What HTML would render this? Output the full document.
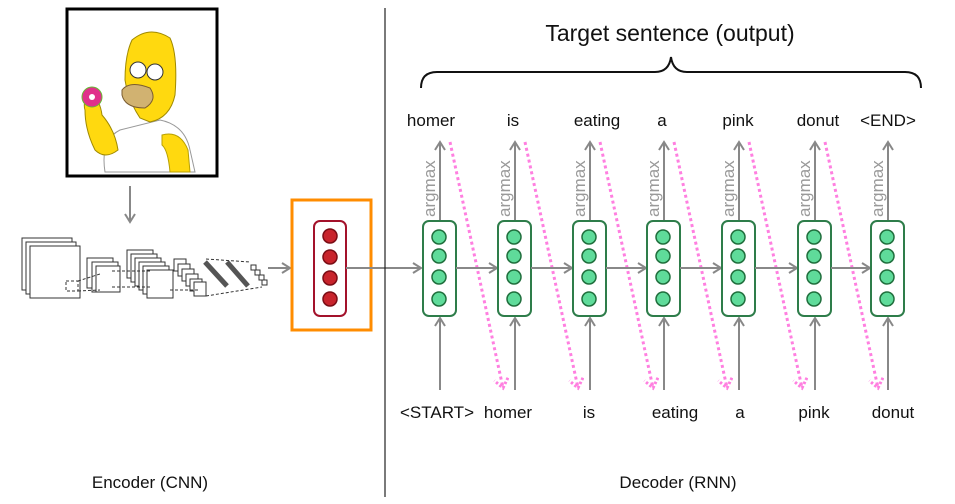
<!DOCTYPE html>
<html><head><meta charset="utf-8"><style>
html,body{margin:0;padding:0;background:#fff;}
svg{display:block;font-family:"Liberation Sans",sans-serif;}
</style></head><body>
<svg width="955" height="504" viewBox="0 0 955 504" xmlns="http://www.w3.org/2000/svg">
<defs>
<marker id="ga" markerWidth="12" markerHeight="12" refX="9" refY="6" orient="auto" markerUnits="userSpaceOnUse">
<path d="M1,1 L9,6 L1,11" fill="none" stroke="#888" stroke-width="2"/></marker>
<marker id="pa" markerWidth="16" markerHeight="16" refX="11" refY="8" orient="auto" markerUnits="userSpaceOnUse">
<path d="M2,1 L11,8 L2,15" fill="none" stroke="#ff7fe0" stroke-width="3" stroke-dasharray="2.5,2"/></marker>
</defs>
<!-- Homer picture -->
<rect x="67" y="9" width="150" height="167" fill="#fff" stroke="#000" stroke-width="3"/>
<path d="M105,172 Q100,140 120,130 L160,120 Q185,125 190,150 L195,172 Z" fill="#fff" stroke="#999"/>
<path d="M162,135 Q180,130 188,150 L190,172 L170,172 Q168,150 162,145 Z" fill="#ffd90f" stroke="#b8a000"/>
<path d="M132,40 Q150,25 170,38 Q178,55 175,95 Q170,118 150,122 L140,118 Q128,100 125,80 Q125,55 132,40 Z" fill="#ffd90f" stroke="#a08a00"/>
<path d="M122,90 Q130,80 150,88 Q158,100 145,108 Q125,108 122,95 Z" fill="#d1b271" stroke="#7a5c30"/>
<circle cx="138" cy="70" r="8" fill="#fff" stroke="#333"/><circle cx="155" cy="72" r="8" fill="#fff" stroke="#333"/>
<path d="M85,110 Q82,100 92,95 Q100,100 102,115 Q115,130 118,150 Q105,160 95,150 Q85,130 85,110 Z" fill="#ffd90f" stroke="#a08a00"/>
<circle cx="92" cy="97" r="10" fill="#e0308a" stroke="#6b3"/><circle cx="92" cy="97" r="3" fill="#fff"/>
<!-- arrow down -->
<line x1="130" y1="186" x2="130" y2="222" stroke="#888" stroke-width="2" marker-end="url(#ga)"/>
<!-- CNN sketch -->
<g fill="#fff" stroke="#333" stroke-width="1">
<rect x="22" y="238" width="50" height="52"/><rect x="26" y="242" width="50" height="52"/><rect x="30" y="246" width="50" height="52"/>
<rect x="87" y="258" width="26" height="30"/><rect x="92" y="262" width="26" height="30"/><rect x="96" y="266" width="24" height="26"/>
<rect x="127" y="250" width="26" height="28"/><rect x="131" y="254" width="26" height="28"/><rect x="135" y="258" width="26" height="28"/><rect x="139" y="262" width="26" height="28"/><rect x="143" y="266" width="26" height="28"/><rect x="147" y="270" width="26" height="28"/>
<rect x="174" y="259" width="12" height="12"/><rect x="178" y="264" width="12" height="12"/><rect x="182" y="269" width="12" height="12"/><rect x="186" y="274" width="12" height="12"/><rect x="190" y="279" width="12" height="12"/><rect x="194" y="282" width="12" height="14"/>
</g>
<g stroke="#555" stroke-width="5" fill="none"><line x1="205" y1="262" x2="227" y2="286"/><line x1="227" y1="262" x2="248" y2="286"/></g>
<g fill="#fff" stroke="#333"><rect x="251" y="265" width="5" height="5"/><rect x="255" y="270" width="5" height="5"/><rect x="259" y="275" width="5" height="5"/><rect x="262" y="280" width="5" height="5"/></g>
<g stroke="#333" stroke-dasharray="3,2" fill="none"><rect x="66" y="281" width="12" height="10"/><path d="M78,281 L100,274 M78,291 L100,290 M112,271 L150,271 M112,287 L150,287 M170,290 L200,290 M206,259 L250,262 M206,296 L262,287"/></g>
<line x1="268" y1="268" x2="290" y2="268" stroke="#888" stroke-width="2" marker-end="url(#ga)"/>
<!-- orange box & red cell -->
<rect x="292" y="200" width="79" height="130" fill="none" stroke="#ff8c00" stroke-width="3"/>
<rect x="314" y="221" width="32" height="95" rx="6" fill="#fff" stroke="#a3122b" stroke-width="2"/>
<g fill="#c8242c" stroke="#7a0d15" stroke-width="1.5"><circle cx="330" cy="236" r="7"/><circle cx="330" cy="257" r="7"/><circle cx="330" cy="278" r="7"/><circle cx="330" cy="299" r="7"/></g>
<line x1="346" y1="268" x2="421" y2="268" stroke="#888" stroke-width="2" marker-end="url(#ga)"/>
<!-- divider -->
<line x1="385" y1="8" x2="385" y2="497" stroke="#222" stroke-width="1.2"/>
<!-- title and brace -->
<text x="670" y="41" font-size="23" text-anchor="middle" fill="#111">Target sentence (output)</text>
<path d="M421,88 Q421,72 437,72 L655,72 Q669,72 671,57 Q673,72 687,72 L905,72 Q921,72 921,88" fill="none" stroke="#111" stroke-width="2"/>
<g font-size="17" fill="#111" text-anchor="middle">
<text x="431" y="126">homer</text><text x="513" y="126">is</text><text x="597" y="126">eating</text><text x="662" y="126">a</text><text x="738" y="126">pink</text><text x="818" y="126">donut</text><text x="888" y="126">&lt;END&gt;</text>
<text x="437" y="418">&lt;START&gt;</text><text x="508" y="418">homer</text><text x="589" y="418">is</text><text x="675" y="418">eating</text><text x="740" y="418">a</text><text x="814" y="418">pink</text><text x="893" y="418">donut</text>
<text x="150" y="488">Encoder (CNN)</text><text x="678" y="488">Decoder (RNN)</text>
</g>
<g>
<g transform="translate(439,0)">
<line x1="1" y1="221" x2="1" y2="142" stroke="#888" stroke-width="2" marker-end="url(#ga)"/>
<line x1="1" y1="390" x2="1" y2="318" stroke="#888" stroke-width="2" marker-end="url(#ga)"/>
<text transform="translate(-4,217) rotate(-90)" font-size="17" fill="#999">argmax</text>
<rect x="-16" y="221" width="33" height="95" rx="6" fill="#fff" stroke="#2e7d4a" stroke-width="2"/>
<g fill="#5fdb9a" stroke="#1f6e3c" stroke-width="1.5"><circle cx="0" cy="237" r="7"/><circle cx="0" cy="256" r="7"/><circle cx="0" cy="277" r="7"/><circle cx="0" cy="299" r="7"/></g>
<line x1="11" y1="142" x2="64" y2="388" stroke="#ff7fe0" stroke-width="3" stroke-dasharray="3,3" marker-end="url(#pa)"/>
<line x1="17" y1="268" x2="58" y2="268" stroke="#888" stroke-width="2" marker-end="url(#ga)"/>
</g>
<g transform="translate(514,0)">
<line x1="1" y1="221" x2="1" y2="142" stroke="#888" stroke-width="2" marker-end="url(#ga)"/>
<line x1="1" y1="390" x2="1" y2="318" stroke="#888" stroke-width="2" marker-end="url(#ga)"/>
<text transform="translate(-4,217) rotate(-90)" font-size="17" fill="#999">argmax</text>
<rect x="-16" y="221" width="33" height="95" rx="6" fill="#fff" stroke="#2e7d4a" stroke-width="2"/>
<g fill="#5fdb9a" stroke="#1f6e3c" stroke-width="1.5"><circle cx="0" cy="237" r="7"/><circle cx="0" cy="256" r="7"/><circle cx="0" cy="277" r="7"/><circle cx="0" cy="299" r="7"/></g>
<line x1="11" y1="142" x2="64" y2="388" stroke="#ff7fe0" stroke-width="3" stroke-dasharray="3,3" marker-end="url(#pa)"/>
<line x1="17" y1="268" x2="58" y2="268" stroke="#888" stroke-width="2" marker-end="url(#ga)"/>
</g>
<g transform="translate(589,0)">
<line x1="1" y1="221" x2="1" y2="142" stroke="#888" stroke-width="2" marker-end="url(#ga)"/>
<line x1="1" y1="390" x2="1" y2="318" stroke="#888" stroke-width="2" marker-end="url(#ga)"/>
<text transform="translate(-4,217) rotate(-90)" font-size="17" fill="#999">argmax</text>
<rect x="-16" y="221" width="33" height="95" rx="6" fill="#fff" stroke="#2e7d4a" stroke-width="2"/>
<g fill="#5fdb9a" stroke="#1f6e3c" stroke-width="1.5"><circle cx="0" cy="237" r="7"/><circle cx="0" cy="256" r="7"/><circle cx="0" cy="277" r="7"/><circle cx="0" cy="299" r="7"/></g>
<line x1="11" y1="142" x2="64" y2="388" stroke="#ff7fe0" stroke-width="3" stroke-dasharray="3,3" marker-end="url(#pa)"/>
<line x1="17" y1="268" x2="57" y2="268" stroke="#888" stroke-width="2" marker-end="url(#ga)"/>
</g>
<g transform="translate(663,0)">
<line x1="1" y1="221" x2="1" y2="142" stroke="#888" stroke-width="2" marker-end="url(#ga)"/>
<line x1="1" y1="390" x2="1" y2="318" stroke="#888" stroke-width="2" marker-end="url(#ga)"/>
<text transform="translate(-4,217) rotate(-90)" font-size="17" fill="#999">argmax</text>
<rect x="-16" y="221" width="33" height="95" rx="6" fill="#fff" stroke="#2e7d4a" stroke-width="2"/>
<g fill="#5fdb9a" stroke="#1f6e3c" stroke-width="1.5"><circle cx="0" cy="237" r="7"/><circle cx="0" cy="256" r="7"/><circle cx="0" cy="277" r="7"/><circle cx="0" cy="299" r="7"/></g>
<line x1="11" y1="142" x2="64" y2="388" stroke="#ff7fe0" stroke-width="3" stroke-dasharray="3,3" marker-end="url(#pa)"/>
<line x1="17" y1="268" x2="58" y2="268" stroke="#888" stroke-width="2" marker-end="url(#ga)"/>
</g>
<g transform="translate(738,0)">
<line x1="1" y1="221" x2="1" y2="142" stroke="#888" stroke-width="2" marker-end="url(#ga)"/>
<line x1="1" y1="390" x2="1" y2="318" stroke="#888" stroke-width="2" marker-end="url(#ga)"/>
<text transform="translate(-4,217) rotate(-90)" font-size="17" fill="#999">argmax</text>
<rect x="-16" y="221" width="33" height="95" rx="6" fill="#fff" stroke="#2e7d4a" stroke-width="2"/>
<g fill="#5fdb9a" stroke="#1f6e3c" stroke-width="1.5"><circle cx="0" cy="237" r="7"/><circle cx="0" cy="256" r="7"/><circle cx="0" cy="277" r="7"/><circle cx="0" cy="299" r="7"/></g>
<line x1="11" y1="142" x2="64" y2="388" stroke="#ff7fe0" stroke-width="3" stroke-dasharray="3,3" marker-end="url(#pa)"/>
<line x1="17" y1="268" x2="59" y2="268" stroke="#888" stroke-width="2" marker-end="url(#ga)"/>
</g>
<g transform="translate(814,0)">
<line x1="1" y1="221" x2="1" y2="142" stroke="#888" stroke-width="2" marker-end="url(#ga)"/>
<line x1="1" y1="390" x2="1" y2="318" stroke="#888" stroke-width="2" marker-end="url(#ga)"/>
<text transform="translate(-4,217) rotate(-90)" font-size="17" fill="#999">argmax</text>
<rect x="-16" y="221" width="33" height="95" rx="6" fill="#fff" stroke="#2e7d4a" stroke-width="2"/>
<g fill="#5fdb9a" stroke="#1f6e3c" stroke-width="1.5"><circle cx="0" cy="237" r="7"/><circle cx="0" cy="256" r="7"/><circle cx="0" cy="277" r="7"/><circle cx="0" cy="299" r="7"/></g>
<line x1="11" y1="142" x2="64" y2="388" stroke="#ff7fe0" stroke-width="3" stroke-dasharray="3,3" marker-end="url(#pa)"/>
<line x1="17" y1="268" x2="56" y2="268" stroke="#888" stroke-width="2" marker-end="url(#ga)"/>
</g>
<g transform="translate(887,0)">
<line x1="1" y1="221" x2="1" y2="142" stroke="#888" stroke-width="2" marker-end="url(#ga)"/>
<line x1="1" y1="390" x2="1" y2="318" stroke="#888" stroke-width="2" marker-end="url(#ga)"/>
<text transform="translate(-4,217) rotate(-90)" font-size="17" fill="#999">argmax</text>
<rect x="-16" y="221" width="33" height="95" rx="6" fill="#fff" stroke="#2e7d4a" stroke-width="2"/>
<g fill="#5fdb9a" stroke="#1f6e3c" stroke-width="1.5"><circle cx="0" cy="237" r="7"/><circle cx="0" cy="256" r="7"/><circle cx="0" cy="277" r="7"/><circle cx="0" cy="299" r="7"/></g>
</g>
</g>
</svg>
</body></html>
